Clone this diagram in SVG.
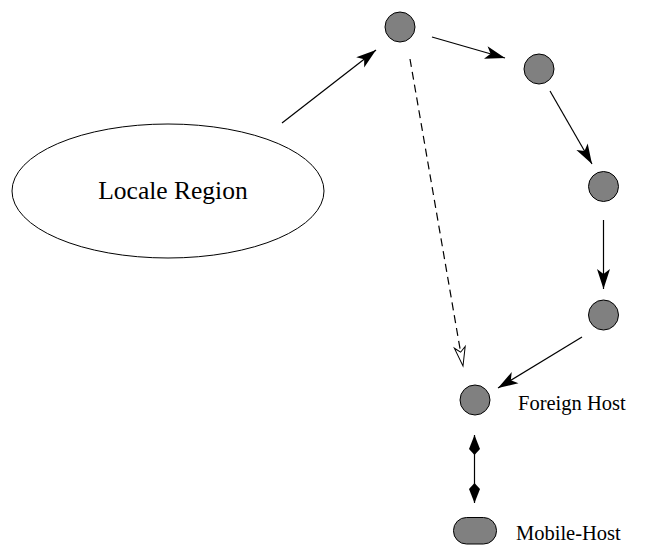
<svg xmlns="http://www.w3.org/2000/svg" width="655" height="552" viewBox="0 0 655 552">
<style>
  .node { fill: #808080; stroke: #000; stroke-width: 1; }
  .conn { stroke: #000; stroke-width: 1.2; fill: none; }
  .dash { stroke-dasharray: 8 5; }
  .lbl { font-family: "Liberation Serif", "Times New Roman", serif; fill: #000; }
</style>
<defs>
  <marker id="ah" markerUnits="userSpaceOnUse" markerWidth="24" markerHeight="16" viewBox="-22 -8 24 16" refX="0" refY="0" orient="auto">
    <path d="M0,0 L-20,-6.5 L-15,0 L-20,6.5 Z" fill="#000"/>
  </marker>
  <marker id="ahs" markerUnits="userSpaceOnUse" markerWidth="24" markerHeight="16" viewBox="-22 -8 24 16" refX="0" refY="0" orient="auto-start-reverse">
    <path d="M0,0 L-14,-5.5 L-20,0 L-14,5.5 Z" fill="#000"/>
  </marker>
  <marker id="aho" markerUnits="userSpaceOnUse" markerWidth="24" markerHeight="16" viewBox="-22 -8 24 16" refX="0" refY="0" orient="auto">
    <path d="M0,0 L-19,-5.5 L-14,0 L-19,5.5 Z" fill="#fff" stroke="#000" stroke-width="1"/>
  </marker>
</defs>
<rect width="655" height="552" fill="#fff"/>
<g id="connectors">
  <line class="conn" x1="282" y1="123" x2="376" y2="50" marker-end="url(#ah)"/>
  <line class="conn" x1="432" y1="37" x2="505" y2="58" marker-end="url(#ah)"/>
  <line class="conn" x1="550" y1="91" x2="592" y2="164" marker-end="url(#ah)"/>
  <line class="conn" x1="603.5" y1="220" x2="603.5" y2="289" marker-end="url(#ah)"/>
  <line class="conn" x1="582" y1="337" x2="498" y2="388" marker-end="url(#ah)"/>
  <line class="conn dash" x1="410" y1="59" x2="463" y2="366" marker-end="url(#aho)"/>
  <line class="conn" x1="474.5" y1="435" x2="474.5" y2="503" marker-start="url(#ahs)" marker-end="url(#ahs)"/>
</g>
<g id="locale-region">
  <ellipse cx="168" cy="191" rx="156" ry="67" fill="#fff" stroke="#000" stroke-width="1"/>
  <text class="lbl" x="173" y="199" font-size="25.5" text-anchor="middle">Locale Region</text>
</g>
<g id="node1"><circle class="node" cx="400" cy="27" r="15"/></g>
<g id="node2"><circle class="node" cx="539" cy="69" r="15"/></g>
<g id="node3"><circle class="node" cx="603.5" cy="186.5" r="15"/></g>
<g id="node4"><circle class="node" cx="603.5" cy="315" r="15"/></g>
<g id="foreign-host">
  <circle class="node" cx="475" cy="400" r="15"/>
  <text class="lbl" x="518" y="410" font-size="20.5">Foreign Host</text>
</g>
<g id="mobile-host">
  <rect class="node" x="453.5" y="517.5" width="43" height="26.5" rx="13" ry="13"/>
  <text class="lbl" x="516" y="540" font-size="20.5">Mobile-Host</text>
</g>
</svg>
